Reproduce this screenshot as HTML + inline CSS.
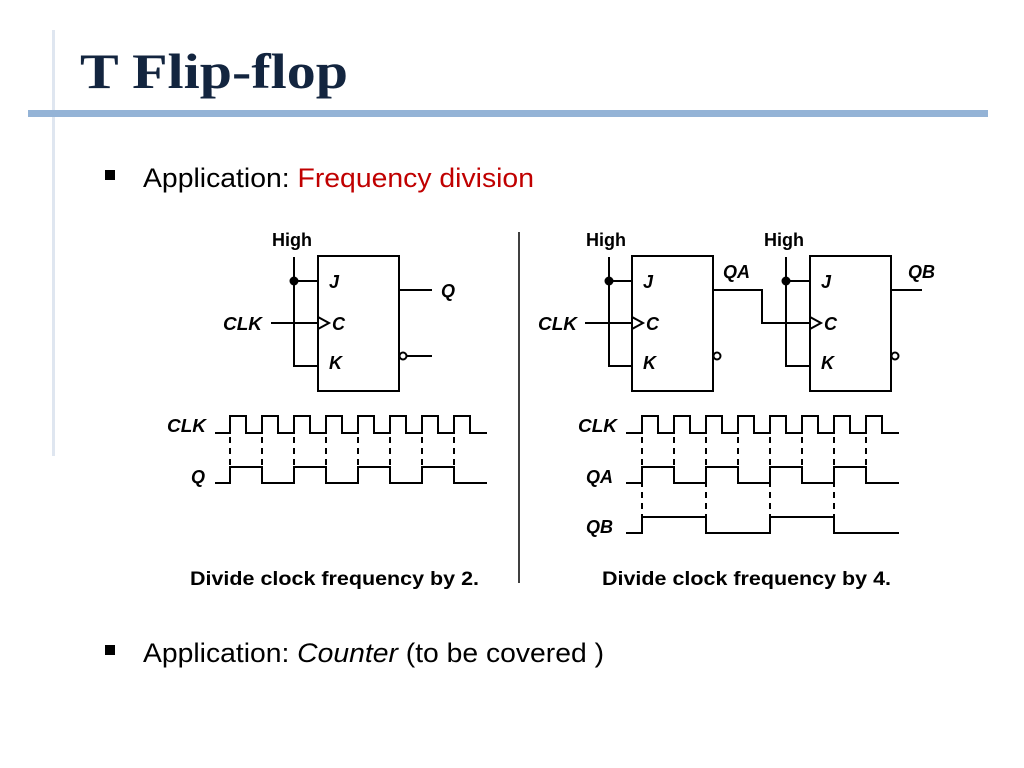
<!DOCTYPE html>
<html><head><meta charset="utf-8"><style>
html,body{margin:0;padding:0;background:#fff;width:1024px;height:768px;overflow:hidden}
svg{display:block}
</style></head><body>
<svg width="1024" height="768" viewBox="0 0 1024 768" xmlns="http://www.w3.org/2000/svg">
<rect x="52" y="30" width="3" height="426" fill="#dfe6f0"/>
<rect x="28" y="110" width="960" height="7" fill="#94b3d6"/>
<text x="80" y="88" font-family="Liberation Serif, serif" font-weight="bold" font-size="50" fill="#13253f" textLength="268" lengthAdjust="spacingAndGlyphs">T Flip-flop</text>
<rect x="105" y="170" width="10" height="10" fill="#000"/>
<text x="143" y="187" font-family="Liberation Sans, sans-serif" font-size="27" fill="#000" textLength="391" lengthAdjust="spacingAndGlyphs">Application: <tspan fill="#c00000">Frequency division</tspan></text>
<rect x="105" y="645" width="10" height="10" fill="#000"/>
<text x="143" y="662" font-family="Liberation Sans, sans-serif" font-size="27" fill="#000" textLength="461" lengthAdjust="spacingAndGlyphs">Application: <tspan font-style="italic">Counter</tspan> (to be covered )</text>

<g stroke="#000" stroke-width="2" fill="none">
<rect x="318" y="256" width="81" height="135"/>
<polyline points="294,257 294,366 318,366"/>
<line x1="294" y1="281" x2="318" y2="281"/>
<line x1="271" y1="323" x2="318" y2="323"/>
<polyline points="318,317 329,323 318,329"/>
<line x1="399" y1="290" x2="432" y2="290"/>
<circle cx="403" cy="356" r="3.5"/>
<line x1="407" y1="356" x2="432" y2="356"/>
<polyline points="215,433 230,433 230,416 246,416 246,433 262,433 262,416 278,416 278,433 294,433 294,416 310,416 310,433 326,433 326,416 342,416 342,433 358,433 358,416 374,416 374,433 390,433 390,416 406,416 406,433 422,433 422,416 438,416 438,433 454,433 454,416 470,416 470,433 487,433"/>
<polyline points="215,483 230,483 230,467 262,467 262,483 294,483 294,467 326,467 326,483 358,483 358,467 390,467 390,483 422,483 422,467 454,467 454,483 487,483"/>
<g stroke-dasharray="6,5"><line x1="230" y1="437" x2="230" y2="466"/><line x1="262" y1="437" x2="262" y2="466"/><line x1="294" y1="437" x2="294" y2="466"/><line x1="326" y1="437" x2="326" y2="466"/><line x1="358" y1="437" x2="358" y2="466"/><line x1="390" y1="437" x2="390" y2="466"/><line x1="422" y1="437" x2="422" y2="466"/><line x1="454" y1="437" x2="454" y2="466"/></g>

<line x1="519" y1="232" x2="519" y2="583" stroke-width="1.5"/>

<rect x="632" y="256" width="81" height="135"/>
<polyline points="609,257 609,366 632,366"/>
<line x1="609" y1="281" x2="632" y2="281"/>
<line x1="585" y1="323" x2="632" y2="323"/>
<polyline points="632,317 643,323 632,329"/>
<circle cx="717" cy="356" r="3.5"/>
<polyline points="713,290 762,290 762,323 810,323"/>
<rect x="810" y="256" width="81" height="135"/>
<polyline points="786,257 786,366 810,366"/>
<line x1="786" y1="281" x2="810" y2="281"/>
<polyline points="810,317 821,323 810,329"/>
<circle cx="895" cy="356" r="3.5"/>
<line x1="891" y1="290" x2="922" y2="290"/>
<polyline points="626,433 642,433 642,416 658,416 658,433 674,433 674,416 690,416 690,433 706,433 706,416 722,416 722,433 738,433 738,416 754,416 754,433 770,433 770,416 786,416 786,433 802,433 802,416 818,416 818,433 834,433 834,416 850,416 850,433 866,433 866,416 882,416 882,433 899,433"/>
<polyline points="626,483 642,483 642,467 674,467 674,483 706,483 706,467 738,467 738,483 770,483 770,467 802,467 802,483 834,483 834,467 866,467 866,483 899,483"/>
<polyline points="626,533 642,533 642,517 706,517 706,533 770,533 770,517 834,517 834,533 899,533"/>
<g stroke-dasharray="6,5"><line x1="642" y1="437" x2="642" y2="516"/><line x1="674" y1="437" x2="674" y2="466"/><line x1="706" y1="437" x2="706" y2="516"/><line x1="738" y1="437" x2="738" y2="466"/><line x1="770" y1="437" x2="770" y2="516"/><line x1="802" y1="437" x2="802" y2="466"/><line x1="834" y1="437" x2="834" y2="516"/><line x1="866" y1="437" x2="866" y2="466"/></g>
</g>
<circle cx="294" cy="281" r="4.5" fill="#000"/>
<circle cx="609" cy="281" r="4.5" fill="#000"/>
<circle cx="786" cy="281" r="4.5" fill="#000"/>

<g font-family="Liberation Sans, sans-serif" font-weight="bold" font-size="18" fill="#000">
<text x="272" y="246">High</text>
<text x="586" y="246">High</text>
<text x="764" y="246">High</text>
<g font-style="italic">
<text x="329" y="288">J</text><text x="332" y="330">C</text><text x="329" y="369">K</text>
<text x="441" y="297">Q</text><text x="223" y="330" textLength="39" lengthAdjust="spacingAndGlyphs">CLK</text>
<text x="643" y="288">J</text><text x="646" y="330">C</text><text x="643" y="369">K</text>
<text x="821" y="288">J</text><text x="824" y="330">C</text><text x="821" y="369">K</text>
<text x="538" y="330" textLength="39" lengthAdjust="spacingAndGlyphs">CLK</text>
<text x="723" y="278">QA</text><text x="908" y="278">QB</text>
<text x="167" y="432" textLength="39" lengthAdjust="spacingAndGlyphs">CLK</text><text x="191" y="483">Q</text>
<text x="578" y="432" textLength="39" lengthAdjust="spacingAndGlyphs">CLK</text><text x="586" y="483">QA</text><text x="586" y="533">QB</text>
</g>
<text x="190" y="585" font-size="19" textLength="289" lengthAdjust="spacingAndGlyphs">Divide clock frequency by 2.</text>
<text x="602" y="585" font-size="19" textLength="289" lengthAdjust="spacingAndGlyphs">Divide clock frequency by 4.</text>
</g>
</svg>
</body></html>
